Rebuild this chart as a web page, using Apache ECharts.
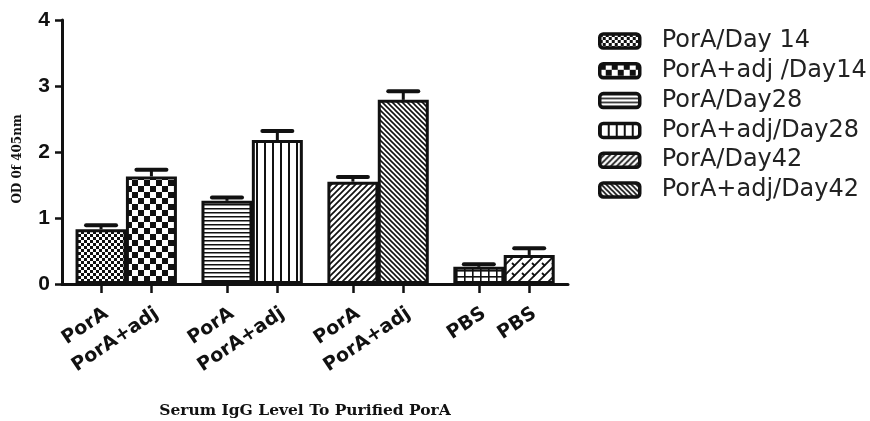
<!DOCTYPE html>
<html><head><meta charset="utf-8">
<script src="https://cdn.jsdelivr.net/npm/echarts@6/dist/echarts.min.js"></script>
<style>html,body{margin:0;padding:0;background:#fff}#c{width:870px;height:421px}</style>
</head><body><div id="c"></div>
<script>
const categories = ['PorA','PorA+adj','PorA','PorA+adj','PorA','PorA+adj','PBS','PBS'];
const seriesNames = ['PorA/Day 14','PorA+adj /Day14','PorA/Day28','PorA+adj/Day28','PorA/Day42','PorA+adj/Day42','PBS','PBS '];
const positions = [0,1,2.5,3.5,5,6,7.5,8.5];
const means = [0.83,1.63,1.26,2.18,1.55,2.79,0.26,0.44];
const errors = [0.06,0.10,0.05,0.14,0.07,0.13,0.04,0.10];
const yTicks = [0,1,2,3,4];

function tile(w,h,draw){
  const c=document.createElement('canvas');c.width=w;c.height=h;
  const g=c.getContext('2d');g.fillStyle='#fff';g.fillRect(0,0,w,h);
  g.fillStyle='#111';g.strokeStyle='#111';draw(g,w,h);
  return {image:c,repeat:'repeat'};
}
function diag(g,s,lw,back){
  g.lineWidth=lw;g.beginPath();
  if(!back){g.moveTo(0,s);g.lineTo(s,0);g.moveTo(-1,1);g.lineTo(1,-1);g.moveTo(s-1,s+1);g.lineTo(s+1,s-1);}
  else{g.moveTo(0,0);g.lineTo(s,s);g.moveTo(-1,s-1);g.lineTo(1,s+1);g.moveTo(s-1,-1);g.lineTo(s+1,1);}
  g.stroke();
}
const patterns=[
  tile(6,6,(g)=>{g.fillRect(0,0,3,3);g.fillRect(3,3,3,3);}),
  tile(12,12,(g)=>{g.fillRect(0,0,6,6);g.fillRect(6,6,6,6);}),
  tile(4,4,(g)=>{g.fillRect(0,0,4,1.5);}),
  tile(8,8,(g)=>{g.fillRect(0,0,2,8);}),
  tile(6,6,(g,w)=>{diag(g,w,1.7,false);}),
  tile(5,5,(g,w)=>{diag(g,w,1.6,true);}),
  tile(8,6,(g)=>{g.fillRect(0,0,8,1.6);g.fillRect(0,0,1.6,6);}),
  tile(10,10,(g,w)=>{diag(g,w,1.8,false);g.lineWidth=1.8;g.beginPath();g.moveTo(2,3);g.lineTo(5,6);g.stroke();})
];

const barSeries=seriesNames.map((n,i)=>({
  name:n,type:'bar',barWidth:51,barGap:'-100%',
  data:[[positions[i],means[i]]],
  itemStyle:{color:patterns[i],borderColor:'#111',borderWidth:3},
  emphasis:{disabled:true},z:2
}));
const errSeries={
  type:'custom',z:3,
  data:positions.map((p,i)=>[p,means[i],means[i]+errors[i]]),
  renderItem(params,api){
    const x=api.value(0);
    const a=api.coord([x,api.value(1)]);
    const b=api.coord([x,api.value(2)]);
    const hw=15;
    return {type:'group',children:[
      {type:'line',shape:{x1:a[0],y1:a[1],x2:b[0],y2:b[1]},style:{stroke:'#111',lineWidth:3}},
      {type:'line',shape:{x1:b[0]-hw,y1:b[1],x2:b[0]+hw,y2:b[1]},style:{stroke:'#111',lineWidth:4,lineCap:'round'}}
    ]};
  }
};

const chart=echarts.init(document.getElementById('c'));
chart.setOption({
  animation:false,
  backgroundColor:'#fff',
  grid:{left:62,top:20,width:506,height:264,containLabel:false,outerBoundsMode:'none'},
  legend:{data:seriesNames.slice(0,6),orient:'vertical',left:593,top:24,itemWidth:40,itemHeight:14,itemGap:5.8,
    icon:'roundRect',selectedMode:false,
    itemStyle:{borderColor:'#111',borderWidth:3.5},
    textStyle:{fontFamily:'DejaVu Sans, Arial',fontSize:24,lineHeight:24,color:'#222',padding:[0,0,0,17]}},
  xAxis:{type:'value',min:-0.775,max:9.27,splitLine:{show:false},
    axisLine:{show:true,onZero:false,lineStyle:{color:'#111',width:3}},
    axisTick:{show:true,customValues:positions,length:9,lineStyle:{color:'#111',width:2.5}},
    axisLabel:{customValues:positions,rotate:34,margin:20,verticalAlign:'top',
      formatter:(v)=>{const i=positions.findIndex(p=>Math.abs(p-v)<1e-6);return i>=0?categories[i]:'';},
      fontFamily:'DejaVu Sans, Arial',fontWeight:'bold',fontSize:19,color:'#111'},
    name:'Serum IgG Level To Purified PorA',nameLocation:'middle',nameGap:119,
    nameTextStyle:{fontFamily:'DejaVu Serif, Liberation Serif',fontWeight:'bold',fontSize:15.5,color:'#111',padding:[0,20,0,0]}},
  yAxis:{type:'value',min:0,max:4,interval:1,splitLine:{show:false},
    axisLine:{show:true,onZero:false,lineStyle:{color:'#111',width:3}},
    axisTick:{show:true,length:7,lineStyle:{color:'#111',width:2.5}},
    axisLabel:{customValues:yTicks,margin:12,fontFamily:'Liberation Sans, Arial',fontWeight:'bold',fontSize:21,color:'#111'},
    name:'OD 0f 405nm',nameLocation:'middle',nameGap:38,
    nameTextStyle:{fontFamily:'DejaVu Serif, Liberation Serif',fontWeight:'bold',fontSize:12,color:'#111',padding:[0,14,0,0]}},
  series:[...barSeries,errSeries]
});
</script></body></html>
